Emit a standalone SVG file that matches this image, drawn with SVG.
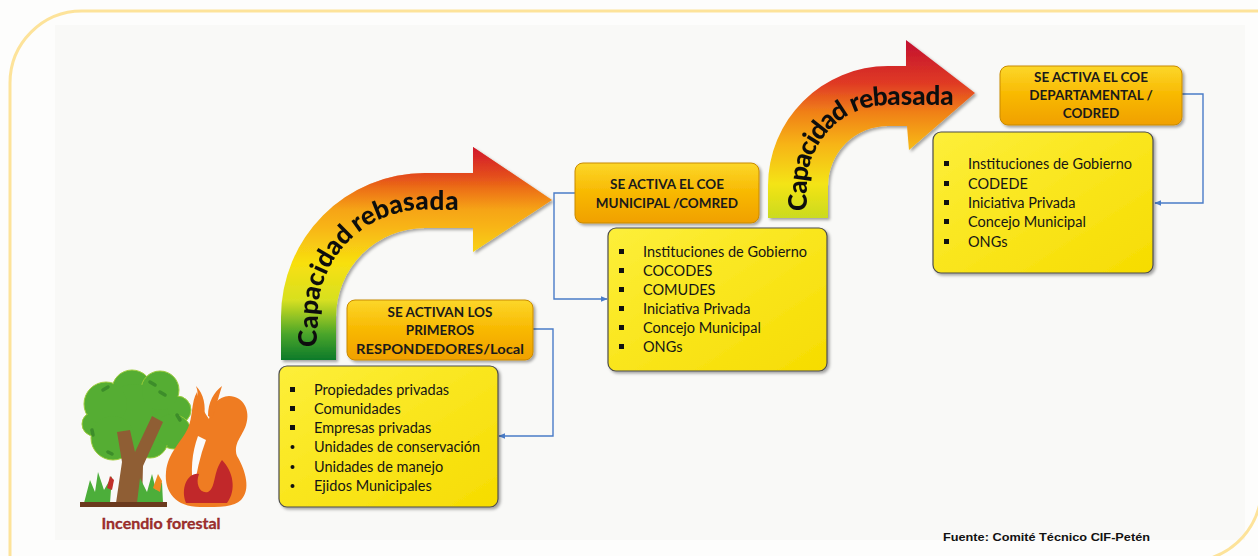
<svg xmlns="http://www.w3.org/2000/svg" width="1258" height="556" viewBox="0 0 1258 556">
  <defs>
    <style>
      .hdr { font-family: Lato, "Liberation Sans", sans-serif; font-weight: 700; font-size: 13.5px; fill: #1a1a1a; text-anchor: middle; }
      .item { font-family: Lato, "Liberation Sans", sans-serif; font-size: 14.5px; fill: #151515; }
      .arrowtxt { font-family: Lato, "Liberation Sans", sans-serif; font-weight: 900; font-size: 26px; fill: #111; }
      .hbox { fill: url(#hdrGrad); stroke: #c98a00; stroke-width: 1; filter: url(#shadow); }
      .lbox { fill: url(#listGrad); stroke: #4d4d4d; stroke-width: 1.2; filter: url(#shadow); }
      .conn { fill: none; stroke: #4a7cc8; stroke-width: 1.4; }
      .sq { fill: #111; }
    </style>
    <filter id="shadow" x="-10%" y="-10%" width="130%" height="140%">
      <feDropShadow dx="2" dy="2" stdDeviation="1.5" flood-color="#000" flood-opacity="0.35"/>
    </filter>
    <linearGradient id="hdrGrad" x1="0" y1="0" x2="0" y2="1">
      <stop offset="0" stop-color="#fcd72a"/>
      <stop offset="0.5" stop-color="#f8b800"/>
      <stop offset="1" stop-color="#f0a000"/>
    </linearGradient>
    <linearGradient id="listGrad" x1="0" y1="0" x2="1" y2="1">
      <stop offset="0" stop-color="#fdef3a"/>
      <stop offset="1" stop-color="#f6dc00"/>
    </linearGradient>
    <!-- arrow 1: green at the foot, red along the top -->
    <linearGradient id="arr1Base" gradientUnits="userSpaceOnUse" x1="0" y1="360" x2="0" y2="145">
      <stop offset="0" stop-color="#0d7a2c"/>
      <stop offset="0.12" stop-color="#4aa52a"/>
      <stop offset="0.28" stop-color="#d8e020"/>
      <stop offset="0.45" stop-color="#f8e010"/>
      <stop offset="0.62" stop-color="#f8b414"/>
      <stop offset="0.8" stop-color="#f39010"/>
      <stop offset="1" stop-color="#e05020"/>
    </linearGradient>
    <linearGradient id="arr1Red" gradientUnits="userSpaceOnUse" x1="0" y1="145" x2="0" y2="210">
      <stop offset="0" stop-color="#cf1230" stop-opacity="0.95"/>
      <stop offset="0.5" stop-color="#dd2a22" stop-opacity="0.55"/>
      <stop offset="1" stop-color="#e84a20" stop-opacity="0"/>
    </linearGradient>
    <linearGradient id="arr2Base" gradientUnits="userSpaceOnUse" x1="0" y1="220" x2="0" y2="40">
      <stop offset="0" stop-color="#c8da22"/>
      <stop offset="0.2" stop-color="#f4e412"/>
      <stop offset="0.42" stop-color="#f7b412"/>
      <stop offset="0.6" stop-color="#f08018"/>
      <stop offset="0.76" stop-color="#e03a24"/>
      <stop offset="1" stop-color="#c20f30"/>
    </linearGradient>
    <marker id="ah" viewBox="0 0 10 10" refX="9" refY="5" markerWidth="7" markerHeight="7" orient="auto-start-reverse" markerUnits="userSpaceOnUse">
      <path d="M0,1 L10,5 L0,9 Z" fill="#4a7cc8"/>
    </marker>
    <!-- centre lines of the two curved arrows, used to set their labels -->
    <path id="tp1" d="M 308.5,352 L 308.5,317 A 116.5,116.5 0 0 1 425,200.5 L 545,200.5"/>
    <path id="tp2" d="M 798,214 L 798,186 A 90,90 0 0 1 888,96 L 975,96"/>
  </defs>

  <!-- page -->
  <rect x="0" y="0" width="1258" height="556" fill="#fdfdfc"/>
  <rect x="55" y="25" width="1190" height="515" fill="#f9f9f7"/>
  <path d="M 10,558 V 83 A 72,72 0 0 1 82,11 H 1260 M 1260,503 A 74,74 0 0 1 1211,558" fill="none" stroke="#fde39a" stroke-width="3"/>

  <!-- curved arrow 1 -->
  <g id="arrow1" filter="url(#shadow)">
    <path d="M 281,360 L 281,317 A 144,144 0 0 1 425,173 L 473,173 L 473,147 L 552,200 L 473,252 L 473,228 L 425,228 A 89,89 0 0 0 336,317 L 336,360 Z" fill="url(#arr1Base)"/>
    <path d="M 281,360 L 281,317 A 144,144 0 0 1 425,173 L 473,173 L 473,147 L 552,200 L 473,252 L 473,228 L 425,228 A 89,89 0 0 0 336,317 L 336,360 Z" fill="url(#arr1Red)"/>
    <text class="arrowtxt" dy="9" letter-spacing="1"><textPath href="#tp1" startOffset="5">Capacidad</textPath></text>
    <text class="arrowtxt" dy="9" letter-spacing="1"><textPath href="#tp1" startOffset="140">rebasada</textPath></text>
  </g>

  <!-- curved arrow 2 -->
  <g id="arrow2" filter="url(#shadow)">
    <path d="M 768,218 L 768,186 A 120,120 0 0 1 888,66 L 906,66 L 906,40 L 975,93 L 909,150 L 907,126 L 888,126 A 60,60 0 0 0 828,186 L 828,218 Z" fill="url(#arr2Base)"/>
    <text class="arrowtxt" dy="9"><textPath href="#tp2" startOffset="3">Capacidad rebasada</textPath></text>
  </g>

  <!-- connectors -->
  <g id="connectors">
    <path class="conn" d="M 533,329 H 553 V 436 H 499" marker-end="url(#ah)"/>
    <path class="conn" d="M 575,193 H 554 V 299 H 607" marker-end="url(#ah)"/>
    <path class="conn" d="M 1182,94 H 1203 V 203 H 1155" marker-end="url(#ah)"/>
  </g>

  <!-- first responders -->
  <g id="node-local-header">
    <rect class="hbox" x="347" y="300" width="186" height="60" rx="8"/>
    <text class="hdr" x="440" y="317">SE ACTIVAN LOS</text>
    <text class="hdr" x="440" y="335">PRIMEROS</text>
    <text class="hdr" x="440" y="354" textLength="168" lengthAdjust="spacingAndGlyphs">RESPONDEDORES/Local</text>
  </g>
  <g id="node-local-list">
    <rect class="lbox" x="279" y="366" width="219" height="141" rx="8"/>
    <rect class="sq" x="290" y="387" width="5" height="5"/>
    <rect class="sq" x="290" y="406" width="5" height="5"/>
    <rect class="sq" x="290" y="425" width="5" height="5"/>
    <circle class="sq" cx="292.5" cy="447" r="2"/>
    <circle class="sq" cx="292.5" cy="467" r="2"/>
    <circle class="sq" cx="292.5" cy="486" r="2"/>
    <text class="item" x="314" y="395">Propiedades privadas</text>
    <text class="item" x="314" y="414">Comunidades</text>
    <text class="item" x="314" y="433">Empresas privadas</text>
    <text class="item" x="314" y="452">Unidades de conservación</text>
    <text class="item" x="314" y="472">Unidades de manejo</text>
    <text class="item" x="314" y="491">Ejidos Municipales</text>
  </g>

  <!-- municipal level -->
  <g id="node-municipal-header">
    <rect class="hbox" x="575" y="163" width="184" height="60" rx="8"/>
    <text class="hdr" x="667" y="189">SE ACTIVA EL COE</text>
    <text class="hdr" x="667" y="208">MUNICIPAL /COMRED</text>
  </g>
  <g id="node-municipal-list">
    <rect class="lbox" x="608" y="228" width="219" height="143" rx="8"/>
    <rect class="sq" x="619" y="249" width="5" height="5"/>
    <rect class="sq" x="619" y="268" width="5" height="5"/>
    <rect class="sq" x="619" y="287" width="5" height="5"/>
    <rect class="sq" x="619" y="306" width="5" height="5"/>
    <rect class="sq" x="619" y="325" width="5" height="5"/>
    <rect class="sq" x="619" y="344" width="5" height="5"/>
    <text class="item" x="643" y="257">Instituciones de Gobierno</text>
    <text class="item" x="643" y="276">COCODES</text>
    <text class="item" x="643" y="295">COMUDES</text>
    <text class="item" x="643" y="314">Iniciativa Privada</text>
    <text class="item" x="643" y="333">Concejo Municipal</text>
    <text class="item" x="643" y="352">ONGs</text>
  </g>

  <!-- departmental level -->
  <g id="node-departamental-header">
    <rect class="hbox" x="1000" y="66" width="182" height="59" rx="8"/>
    <text class="hdr" x="1091" y="82">SE ACTIVA EL COE</text>
    <text class="hdr" x="1091" y="100">DEPARTAMENTAL /</text>
    <text class="hdr" x="1091" y="118">CODRED</text>
  </g>
  <g id="node-departamental-list">
    <rect class="lbox" x="933" y="132" width="220" height="141" rx="8"/>
    <rect class="sq" x="944" y="161" width="5" height="5"/>
    <rect class="sq" x="944" y="181" width="5" height="5"/>
    <rect class="sq" x="944" y="200" width="5" height="5"/>
    <rect class="sq" x="944" y="219" width="5" height="5"/>
    <rect class="sq" x="944" y="239" width="5" height="5"/>
    <text class="item" x="968" y="169">Instituciones de Gobierno</text>
    <text class="item" x="968" y="189">CODEDE</text>
    <text class="item" x="968" y="208">Iniciativa Privada</text>
    <text class="item" x="968" y="227">Concejo Municipal</text>
    <text class="item" x="968" y="247">ONGs</text>
  </g>

  <!-- forest fire icon -->
  <g id="node-incendio">
    <!-- canopy -->
    <g fill="#55ad33" stroke="#9ccc3a" stroke-width="1">
      <circle cx="106" cy="404" r="22"/>
      <circle cx="132" cy="390" r="20"/>
      <circle cx="160" cy="390" r="19"/>
      <circle cx="177" cy="410" r="14"/>
      <circle cx="174" cy="432" r="17"/>
      <circle cx="150" cy="440" r="18"/>
      <circle cx="113" cy="438" r="22"/>
      <circle cx="94" cy="424" r="12"/>
    </g>
    <circle cx="135" cy="418" r="34" fill="#55ad33"/>
    <circle cx="106" cy="404" r="21" fill="#55ad33"/>
    <circle cx="160" cy="392" r="18" fill="#55ad33"/>
    <circle cx="113" cy="437" r="21" fill="#55ad33"/>
    <circle cx="172" cy="430" r="16" fill="#55ad33"/>
    <g stroke="#3d8d2a" stroke-width="3.5" stroke-linecap="round" fill="none">
      <path d="M 103,390 l 5,-3"/>
      <path d="M 150,382 l 5,3"/>
      <path d="M 160,392 l 5,3"/>
      <path d="M 177,415 l 3,5"/>
      <path d="M 92,430 l 1,5"/>
      <path d="M 108,452 l 4,2"/>
    </g>
    <!-- trunk -->
    <path d="M 116,503 L 122,462 L 117,432 L 130,430 L 135,452 L 152,416 L 163,422 L 143,466 L 142,503 Z" fill="#8f5e34"/>
    <!-- grass tufts -->
    <g fill="#4cae3a">
      <path d="M 84,503 L 90,480 L 95,492 L 98,472 L 104,490 L 112,476 L 110,503 Z"/>
      <path d="M 137,503 L 140,478 L 147,492 L 152,474 L 156,490 L 162,482 L 163,503 Z"/>
    </g>
    <path d="M 107,488 L 110,476 L 114,480 L 112,490 Z" fill="#c0302a"/>
    <path d="M 153,488 L 158,474 L 162,481 L 160,492 Z" fill="#f08a20"/>
    <!-- ground -->
    <rect x="80" y="502" width="87" height="5" fill="#6b3a1e"/>
    <!-- fire -->
    <path d="M 200,507 C 176,507 164,492 166,472 C 168,452 181,443 188,428 C 193,417 191,402 197,392 C 200,406 205,413 209,419 C 211,405 219,396 229,396 C 243,396 251,410 246,425 C 242,437 233,443 237,456 C 246,471 251,490 241,500 C 234,507 221,507 200,507 Z" fill="#ef7c22"/>
    <path d="M 199,420 C 196,408 200,396 196,386 C 204,394 206,406 204,418 Z" fill="#ef7c22"/>
    <path d="M 208,416 C 208,402 214,392 222,386 C 218,398 216,408 212,418 Z" fill="#ef7c22"/>
    <path d="M 198,436 C 192,452 190,472 194,490 C 196,474 200,456 206,440 Z" fill="#fbfbfa"/>
    <path d="M 186,503 C 180,488 188,472 199,474 C 195,484 200,494 208,492 C 216,488 213,472 222,460 C 233,471 237,490 227,503 Z" fill="#c1282a"/>
    <text x="161" y="529" text-anchor="middle" font-family="Lato, 'Liberation Sans', sans-serif" font-weight="700" font-size="16px" fill="#a3302e" stroke="#7a1a1a" stroke-width="0.3">Incendio forestal</text>
  </g>

  <!-- source note -->
  <text x="943" y="541" font-family="'Liberation Sans', Arial, sans-serif" font-weight="700" font-size="11.5px" fill="#111" textLength="207" lengthAdjust="spacingAndGlyphs">Fuente: Comité Técnico CIF-Petén</text>
</svg>
